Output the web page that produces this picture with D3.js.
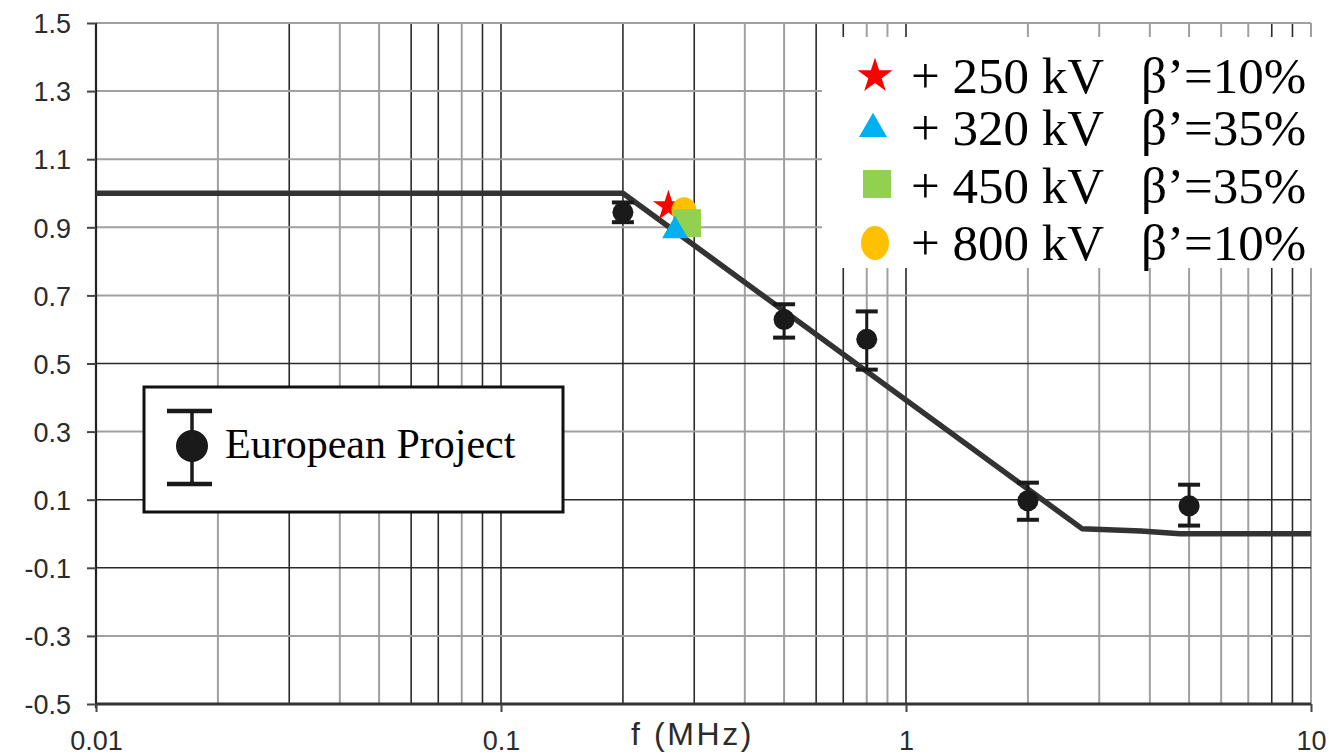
<!DOCTYPE html>
<html><head><meta charset="utf-8">
<script src="https://cdn.jsdelivr.net/npm/d3@7"></script>
<style>body{margin:0;background:#fff}svg{display:block}</style>
</head><body>
<svg id="c" width="1329" height="755"></svg>
<script>
// ---------- data ----------
const curveFreq = [0.01, 0.2, 2.72, 3.8, 4.75, 10];
const curveVal  = [1.0, 1.0, 0.015, 0.008, 0.0, 0.0];

const epFreq = [0.2, 0.5, 0.8, 2, 5];
const epVal  = [0.944, 0.629, 0.571, 0.097, 0.082];
const epHigh = [0.973, 0.674, 0.653, 0.15, 0.144];
const epLow  = [0.915, 0.576, 0.482, 0.041, 0.024];

const seriesNames = ["+ 250 kV", "+ 320 kV", "+ 450 kV", "+ 800 kV"];
const seriesBeta  = ["β’=10%", "β’=35%", "β’=35%", "β’=10%"];
const seriesFreq  = [0.259, 0.269, 0.288, 0.283];
const seriesVal   = [0.962, 0.89, 0.912, 0.95];
const seriesColor = ["#ff0000", "#00b0f0", "#92d050", "#ffc000"];

const xTickValues = [0.01, 0.1, 1, 10];
const xTickLabels = ["0.01", "0.1", "1", "10"];
const yTickValues = [-0.5, -0.3, -0.1, 0.1, 0.3, 0.5, 0.7, 0.9, 1.1, 1.3, 1.5];
const yTickLabels = ["-0.5", "-0.3", "-0.1", "0.1", "0.3", "0.5", "0.7", "0.9", "1.1", "1.3", "1.5"];
const darkVertical = [0.03, 0.06, 0.07, 0.09, 0.1, 0.2, 0.3, 0.6, 0.7, 1, 8, 9];
const darkHorizontal = [0.5, 0.1, -0.1];
const xTitle = "f (MHz)";
const epLegend = "European Project";

// ---------- layout ----------
const svg = d3.select("#c");
const x = d3.scaleLog().domain([0.01, 10]).range([96, 1311]);
const y = d3.scaleLinear().domain([-0.5, 1.5]).range([704, 23]);

// grid
const minor = [];
[0.01, 0.1, 1].forEach(d => { for (let k = 2; k <= 9; k++) minor.push(+(d * k).toPrecision(3)); });
minor.push(0.1, 1, 10);
const isDarkV = v => darkVertical.some(d => Math.abs(d - v) < 1e-9);
const g = svg.append("g");
g.selectAll("line.v").data(minor).join("line")
  .attr("x1", d => x(d)).attr("x2", d => x(d))
  .attr("y1", y(1.5)).attr("y2", y(-0.5))
  .attr("stroke", d => isDarkV(d) ? "#2a2a2a" : "#a0a0a0")
  .attr("stroke-width", d => isDarkV(d) ? 1.6 : 2);
const isDarkH = v => darkHorizontal.some(d => Math.abs(d - v) < 1e-9);
g.selectAll("line.h").data(yTickValues.filter(v => v > -0.5)).join("line")
  .attr("x1", x(0.01)).attr("x2", x(10))
  .attr("y1", d => y(d)).attr("y2", d => y(d))
  .attr("stroke", d => isDarkH(d) ? "#2a2a2a" : "#a0a0a0")
  .attr("stroke-width", d => isDarkH(d) ? 1.6 : 2);

// axes lines
svg.append("line").attr("x1", x(0.01)).attr("x2", x(0.01)).attr("y1", y(1.5)).attr("y2", y(-0.5)+4)
  .attr("stroke", "#222").attr("stroke-width", 2.2);
svg.append("line").attr("x1", x(0.01)).attr("x2", x(10)).attr("y1", y(-0.5)).attr("y2", y(-0.5))
  .attr("stroke", "#333").attr("stroke-width", 3);

// y axis ticks & labels
const yAxis = d3.axisLeft(y).tickValues(yTickValues).tickSize(9)
  .tickFormat((d, i) => yTickLabels[i]);
const ya = svg.append("g").attr("transform", `translate(${x(0.01)},0)`).call(yAxis);
ya.select(".domain").remove();
ya.selectAll(".tick line").attr("stroke", "#444").attr("stroke-width", 2);
ya.selectAll(".tick text").attr("x", -25).attr("dy", "0.36em")
  .style("font-family", "'Liberation Sans', Arial, sans-serif").style("font-size", "27px").attr("fill", "#2b2b2b");

// x axis ticks & labels
const xAxis = d3.axisBottom(x).tickValues(xTickValues).tickSize(8)
  .tickFormat((d, i) => xTickLabels[i]);
const xa = svg.append("g").attr("transform", `translate(0,${y(-0.5)})`).call(xAxis);
xa.select(".domain").remove();
xa.selectAll(".tick line").attr("stroke", "#444").attr("stroke-width", 2);
xa.selectAll(".tick text").attr("y", 46).attr("dy", 0)
  .style("font-family", "'Liberation Sans', Arial, sans-serif").style("font-size", "27px").attr("fill", "#2b2b2b");

svg.append("text").attr("x", 631).attr("y", 745).text(xTitle)
  .style("font-family", "'Liberation Sans', Arial, sans-serif").style("font-size", "32px")
  .style("letter-spacing", "2.6px").attr("fill", "#2b2b2b");

// white background behind top-right legend
svg.append("rect").attr("x", 822).attr("y", 37).attr("width", 507).attr("height", 231).attr("fill", "#fff");

// model curve
const line = d3.line().x(d => x(d[0])).y(d => y(d[1]));
svg.append("path").datum(curveFreq.map((f, i) => [f, curveVal[i]]))
  .attr("d", line).attr("fill", "none").attr("stroke", "#333").attr("stroke-width", 5.5)
  .attr("stroke-linejoin", "round");

// European project points with error bars
const ep = svg.append("g").selectAll("g").data(epFreq.map((f, i) => ({f, v: epVal[i], hi: epHigh[i], lo: epLow[i]}))).join("g");
ep.append("line").attr("x1", d => x(d.f)).attr("x2", d => x(d.f)).attr("y1", d => y(d.hi)).attr("y2", d => y(d.lo))
  .attr("stroke", "#1a1a1a").attr("stroke-width", 3);
ep.append("line").attr("x1", d => x(d.f) - 11).attr("x2", d => x(d.f) + 11).attr("y1", d => y(d.hi)).attr("y2", d => y(d.hi))
  .attr("stroke", "#1a1a1a").attr("stroke-width", 4);
ep.append("line").attr("x1", d => x(d.f) - 11).attr("x2", d => x(d.f) + 11).attr("y1", d => y(d.lo)).attr("y2", d => y(d.lo))
  .attr("stroke", "#1a1a1a").attr("stroke-width", 4);
ep.append("circle").attr("cx", d => x(d.f)).attr("cy", d => y(d.v)).attr("r", 10.5).attr("fill", "#1a1a1a");

// colored markers
function drawMarker(sel, i, cx, cy, big) {
  const c = seriesColor[i];
  if (i === 3) {
    sel.append("ellipse").attr("cx", cx).attr("cy", cy).attr("rx", big ? 14 : 12.5).attr("ry", big ? 17 : 13).attr("fill", c);
    return;
  }
  let type, size;
  if (i === 0) { type = d3.symbolStar; size = big ? 380 : 300; }
  else if (i === 1) { type = d3.symbolTriangle; size = big ? 339 : 292; }
  else { type = d3.symbolSquare; size = 784; }
  sel.append("path").attr("d", d3.symbol(type).size(size)()).attr("transform", `translate(${cx},${cy})`).attr("fill", c);
}
const mk = svg.append("g");
[0, 3, 2, 1].forEach(i => drawMarker(mk, i, x(seriesFreq[i]), y(seriesVal[i]), false));

// top-right legend
const legRows = [93, 145, 203, 260];
const legSymY = [76, 129, 184, 243];
const lg = svg.append("g");
seriesNames.forEach((n, i) => {
  drawMarker(lg, i, i === 1 ? 873 : (i === 2 ? 877 : 875), legSymY[i], true);
  lg.append("text").attr("x", 911).attr("y", legRows[i]).text(n)
    .style("font-family", "'Liberation Serif', 'Times New Roman', serif").style("font-size", "51px").attr("fill", "#000");
  lg.append("text").attr("x", 1141).attr("y", legRows[i]).text(seriesBeta[i])
    .style("font-family", "'Liberation Serif', 'Times New Roman', serif").style("font-size", "51px").attr("fill", "#000");
});

// bottom-left legend box
const lb = svg.append("g");
lb.append("rect").attr("x", 144).attr("y", 387).attr("width", 419).attr("height", 125)
  .attr("fill", "#fff").attr("stroke", "#111").attr("stroke-width", 3);
lb.append("line").attr("x1", 192).attr("x2", 192).attr("y1", 411).attr("y2", 484).attr("stroke", "#1a1a1a").attr("stroke-width", 3.5);
lb.append("line").attr("x1", 167).attr("x2", 212).attr("y1", 411).attr("y2", 411).attr("stroke", "#1a1a1a").attr("stroke-width", 4.5);
lb.append("line").attr("x1", 167).attr("x2", 212).attr("y1", 484).attr("y2", 484).attr("stroke", "#1a1a1a").attr("stroke-width", 4.5);
lb.append("circle").attr("cx", 192).attr("cy", 446).attr("r", 16).attr("fill", "#1a1a1a");
lb.append("text").attr("x", 225).attr("y", 458).text(epLegend)
  .style("font-family", "'Liberation Serif', 'Times New Roman', serif").style("font-size", "42px").attr("fill", "#000");
</script>
</body></html>
